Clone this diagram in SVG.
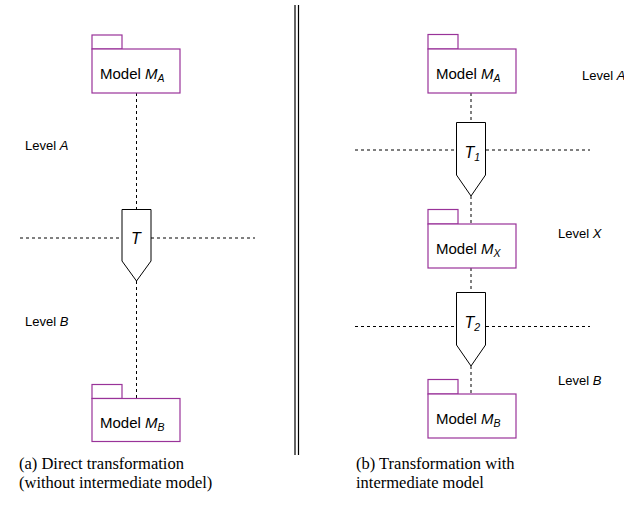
<svg xmlns="http://www.w3.org/2000/svg" width="624" height="516" viewBox="0 0 624 516">
<style>
.pkg{fill:#fff;stroke:#993399;stroke-width:1.2}
.tr{fill:#fff;stroke:#000;stroke-width:1}
.dash{stroke:#000;stroke-width:1;stroke-dasharray:3,3;fill:none}
.t{font-family:"Liberation Sans",Arial,sans-serif;font-size:15px;fill:#000}
.lv{font-family:"Liberation Sans",Arial,sans-serif;font-size:13px;fill:#000}
.tl{font-family:"Liberation Sans",Arial,sans-serif;font-size:16px;font-style:italic;fill:#000}
.cap{font-family:"Liberation Serif","Times New Roman",serif;font-size:16.5px;fill:#000}
.i{font-style:italic}
.sub{font-style:italic;font-size:10.5px}
</style>
<rect width="624" height="516" fill="#fff"/>
<g id="connectors">
<path class="dash" d="M136.5 93V209M136.5 281V398M20 238H122M151 238H255"/>
<path class="dash" d="M471 93V122M471 196V224M471 268V292M471 366V394M355 150H456M486 150H590M355 326.5H456M486 326.5H590"/>
<path d="M295 5V455M298.5 5V455" stroke="#000" stroke-width="1.2" fill="none"/>
</g>
<g id="modelA_left">
<rect class="pkg" x="92" y="35" width="30" height="14"/>
<rect class="pkg" x="92" y="49" width="88" height="44"/>
<text class="t" x="100" y="79">Model <tspan class="i">M</tspan><tspan class="sub" dy="3">A</tspan></text>
</g>
<g id="T">
<path class="tr" d="M122 209.5H151V261L136.5 281L122 261Z"/>
<text class="tl" x="136" y="244" text-anchor="middle">T</text>
</g>
<g id="modelB_left">
<rect class="pkg" x="92" y="384.5" width="30" height="14"/>
<rect class="pkg" x="92" y="398.5" width="88" height="43"/>
<text class="t" x="100" y="428">Model <tspan class="i">M</tspan><tspan class="sub" dy="3">B</tspan></text>
</g>
<g id="labels_left">
<text class="lv" x="25" y="150">Level <tspan class="i">A</tspan></text>
<text class="lv" x="25" y="326">Level <tspan class="i">B</tspan></text>
</g>
<g id="modelA_right">
<rect class="pkg" x="428" y="34.5" width="30" height="14.5"/>
<rect class="pkg" x="428" y="49" width="88" height="44"/>
<text class="t" x="436" y="78.5">Model <tspan class="i">M</tspan><tspan class="sub" dy="3">A</tspan></text>
</g>
<g id="T1">
<path class="tr" d="M456.5 122.5H485.5V175L471 196L456.5 175Z"/>
<text class="tl" x="464.5" y="157.5">T<tspan class="sub" dy="3.5">1</tspan></text>
</g>
<g id="modelX">
<rect class="pkg" x="428" y="209.5" width="30" height="14.5"/>
<rect class="pkg" x="428" y="224" width="88" height="44"/>
<text class="t" x="436" y="253.5">Model <tspan class="i">M</tspan><tspan class="sub" dy="3">X</tspan></text>
</g>
<g id="T2">
<path class="tr" d="M456.5 292.5H485.5V345L471 366L456.5 345Z"/>
<text class="tl" x="464.5" y="327.5">T<tspan class="sub" dy="3.5">2</tspan></text>
</g>
<g id="modelB_right">
<rect class="pkg" x="428" y="379.5" width="30" height="14.5"/>
<rect class="pkg" x="428" y="394" width="88" height="44"/>
<text class="t" x="436" y="423.5">Model <tspan class="i">M</tspan><tspan class="sub" dy="3">B</tspan></text>
</g>
<g id="labels_right">
<text class="lv" x="582" y="80">Level <tspan class="i">A</tspan></text>
<text class="lv" x="558" y="238">Level <tspan class="i">X</tspan></text>
<text class="lv" x="558" y="385">Level <tspan class="i">B</tspan></text>
</g>
<g id="captions">
<text class="cap" x="19" y="469">(a) Direct transformation</text>
<text class="cap" x="19" y="488">(without intermediate model)</text>
<text class="cap" x="356" y="469">(b) Transformation with</text>
<text class="cap" x="356" y="488">intermediate model</text>
</g>
</svg>
